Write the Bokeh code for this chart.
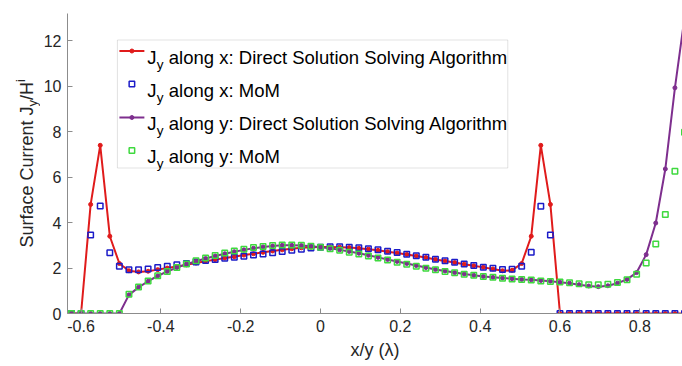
import math
from bokeh.plotting import figure
from bokeh.layouts import row
from bokeh.models import Range1d, FixedTicker, CustomJSTickFormatter, Label, BoxAnnotation
from bokeh.embed import file_html
from bokeh.resources import INLINE

# ---------------- data ----------------
x_pos = [-0.624, -0.600, -0.576, -0.552, -0.528, -0.504, -0.480, -0.456, -0.432, -0.408,
         -0.384, -0.360, -0.336, -0.312, -0.288, -0.264, -0.240, -0.216, -0.192, -0.168,
         -0.144, -0.120, -0.096, -0.072, -0.048, -0.024, 0.000, 0.024, 0.048, 0.072,
         0.096, 0.120, 0.144, 0.168, 0.192, 0.216, 0.240, 0.264, 0.288, 0.312,
         0.336, 0.360, 0.384, 0.408, 0.432, 0.456, 0.480, 0.504, 0.528, 0.552,
         0.576, 0.600, 0.624, 0.648, 0.672, 0.696, 0.720, 0.744, 0.768, 0.792,
         0.816, 0.840, 0.864, 0.888, 0.912]

jx_direct = [0, 0, 4.8, 7.4, 3.4, 2.2, 1.88, 1.83, 1.86, 1.93,
             2.00, 2.07, 2.14, 2.22, 2.30, 2.37, 2.44, 2.50, 2.57, 2.63,
             2.69, 2.75, 2.80, 2.85, 2.89, 2.92, 2.93, 2.93, 2.92, 2.90,
             2.87, 2.83, 2.78, 2.72, 2.66, 2.60, 2.53, 2.46, 2.38, 2.31,
             2.24, 2.17, 2.10, 2.03, 1.96, 1.88, 1.90, 2.20, 3.40, 7.40,
             4.80, 0, 0, 0, 0, 0, 0, 0, 0, 0,
             0, 0, 0, 0, 0]

jx_mom = [0, 0, 3.45, 4.73, 2.67, 2.08, 1.93, 1.92, 1.96, 2.02,
          2.08, 2.14, 2.20, 2.27, 2.33, 2.38, 2.43, 2.47, 2.52, 2.57,
          2.62, 2.67, 2.73, 2.78, 2.83, 2.88, 2.92, 2.94, 2.94, 2.92,
          2.89, 2.85, 2.80, 2.74, 2.68, 2.61, 2.54, 2.47, 2.39, 2.32,
          2.25, 2.18, 2.11, 2.04, 1.99, 1.94, 1.95, 2.08, 2.69, 4.72,
          3.45, 0, 0, 0, 0, 0, 0, 0, 0, 0,
          0, 0, 0, 0, 0]

jy_direct = [0, 0, 0, 0, 0, 0, 0.82, 1.15, 1.42, 1.65,
             1.85, 2.02, 2.17, 2.30, 2.42, 2.53, 2.63, 2.72, 2.80, 2.87,
             2.93, 2.97, 3.00, 3.00, 2.99, 2.96, 2.92, 2.87, 2.80, 2.73,
             2.65, 2.56, 2.47, 2.38, 2.29, 2.20, 2.11, 2.02, 1.94, 1.87,
             1.80, 1.74, 1.68, 1.63, 1.59, 1.56, 1.53, 1.50, 1.48, 1.45,
             1.42, 1.38, 1.33, 1.27, 1.21, 1.18, 1.22, 1.33, 1.50, 1.80,
             2.59, 3.98, 6.36, 9.93, 13.0]

jy_mom = [0, 0, 0, 0, 0, 0, 0.85, 1.17, 1.43, 1.66,
          1.85, 2.02, 2.18, 2.32, 2.44, 2.55, 2.66, 2.75, 2.83, 2.90,
          2.95, 2.99, 3.01, 3.01, 3.00, 2.96, 2.91, 2.85, 2.78, 2.70,
          2.62, 2.53, 2.44, 2.35, 2.26, 2.17, 2.08, 1.99, 1.92, 1.85,
          1.79, 1.73, 1.68, 1.63, 1.59, 1.55, 1.52, 1.50, 1.47, 1.43,
          1.41, 1.39, 1.35, 1.31, 1.27, 1.27, 1.29, 1.36, 1.49, 1.73,
          2.22, 3.06, 4.36, 6.26, 7.97]

x_ticks = [-0.6, -0.4, -0.2, 0, 0.2, 0.4, 0.6, 0.8]
y_ticks = [0, 2, 4, 6, 8, 10, 12]

legend_rest = ["along x: Direct Solution Solving Algorithm",
               "along x: MoM",
               "along y: Direct Solution Solving Algorithm",
               "along y: MoM"]

# ---------------- styling / layout ----------------
RED = "#e01b1b"
BLUE = "#1c1cc8"
PURPLE = "#7e2f8e"
GREEN = "#3fd93f"
AXIS = "#8c8c8c"
TXT = "#262626"
FONT = "Liberation Sans"

W, H = 682, 366
LW = 40                     # width of the strip holding the y-axis title
FL, FR, FT, FB = 66, 682, 13, 313   # frame edges in page pixels
X0, X1 = -0.634, 0.907
Y0, Y1 = 0.0, 13.2


def dx(px):
    return X0 + (px - FL) * (X1 - X0) / (FR - FL)


def dy(py):
    return Y0 + (FB - py) * (Y1 - Y0) / (FB - FT)


p = figure(width=W - LW, height=H, x_range=Range1d(X0, X1), y_range=Range1d(Y0, Y1),
           output_backend="svg", toolbar_location=None,
           min_border_left=FL - LW, min_border_right=W - FR,
           min_border_top=FT, min_border_bottom=H - FB)
p.outline_line_color = None
p.xgrid.visible = False
p.ygrid.visible = False
p.background_fill_color = "white"
p.border_fill_color = "white"

for ax in (p.xaxis[0], p.yaxis[0]):
    ax.axis_line_color = AXIS
    ax.major_tick_line_color = AXIS
    ax.major_tick_in = 5
    ax.major_tick_out = 0
    ax.minor_tick_line_color = None
    ax.major_label_text_font = FONT
    ax.major_label_text_font_size = "16px"
    ax.major_label_text_color = TXT
    ax.major_label_standoff = 6

p.xaxis.ticker = FixedTicker(ticks=x_ticks)
p.yaxis.ticker = FixedTicker(ticks=y_ticks)
p.xaxis.formatter = CustomJSTickFormatter(
    code="var s = tick.toFixed(1); if (s == '0.0' || s == '-0.0') { return '0'; } return s;")
p.yaxis.formatter = CustomJSTickFormatter(code="return tick.toFixed(0);")

p.xaxis.axis_label = "x/y (λ)"
p.xaxis.axis_label_text_font = FONT
p.xaxis.axis_label_text_font_size = "18px"
p.xaxis.axis_label_text_font_style = "normal"
p.xaxis.axis_label_text_color = TXT
p.xaxis.axis_label_standoff = 5

# ---------------- data marks ----------------
p.line(x_pos, jx_direct, line_color=RED, line_width=2)
p.scatter(x_pos, jx_direct, marker="circle", size=4, color=RED)
p.scatter(x_pos, jx_mom, marker="square", size=5.5, fill_color=None,
          line_color=BLUE, line_width=1.5)
p.line(x_pos, jy_direct, line_color=PURPLE, line_width=2)
p.scatter(x_pos, jy_direct, marker="circle", size=4, color=PURPLE)
p.scatter(x_pos, jy_mom, marker="square", size=5.5, fill_color=None,
          line_color=GREEN, line_width=1.5)

# ---------------- legend (drawn by hand for the J_y subscripts) ----------------
box = BoxAnnotation(left=dx(116), right=dx(507), top=dy(39.5), bottom=dy(167.5),
                    fill_color="white", fill_alpha=1.0, line_color="#a0a0a0",
                    line_width=1, level="underlay")
p.add_layout(box)

row_mid = [50.5, 83.5, 117, 150]
styles = [("line", RED), ("square", BLUE), ("line", PURPLE), ("square", GREEN)]
for (kind, col), ym, rest in zip(styles, row_mid, legend_rest):
    if kind == "line":
        p.line([dx(118), dx(143)], [dy(ym), dy(ym)], line_color=col, line_width=2)
        p.scatter([dx(130.5)], [dy(ym)], marker="circle", size=4, color=col)
    else:
        p.scatter([dx(130.5)], [dy(ym)], marker="square", size=5.5, fill_color=None,
                  line_color=col, line_width=1.5)
    base = ym + 6
    p.add_layout(Label(x=dx(146), y=dy(base), text="J", text_font=FONT,
                       text_font_size="18.5px", text_color="black",
                       text_baseline="alphabetic", text_align="left"))
    p.add_layout(Label(x=dx(155.5), y=dy(base + 7), text="y", text_font=FONT,
                       text_font_size="13.5px", text_color="black",
                       text_baseline="alphabetic", text_align="left"))
    p.add_layout(Label(x=dx(167.5), y=dy(base), text=rest, text_font=FONT,
                       text_font_size="18.5px", text_color="black",
                       text_baseline="alphabetic", text_align="left"))

# ---------------- y axis title strip (own small figure, sub/superscripts) ----------------
# In a row the frames are aligned with the main plot's frame (page y 13..313),
# so the strip's y range maps data value (H - page_y) onto that frame.
t = figure(width=LW, height=H, x_range=Range1d(0, LW), y_range=Range1d(H - FB, H - FT),
           output_backend="svg", toolbar_location=None,
           x_axis_location=None, y_axis_location=None,
           min_border_left=0, min_border_right=0, min_border_top=FT,
           min_border_bottom=H - FB)
t.outline_line_color = None
t.xgrid.visible = False
t.ygrid.visible = False
t.background_fill_color = "white"
t.border_fill_color = "white"

ang = math.pi / 2
base_x = 26.5
start_y = 247


def ylab(px, py, txt, size):
    t.add_layout(Label(x=px, y=H - py, text=txt, angle=ang, text_font=FONT,
                       text_font_size=size, text_color=TXT,
                       text_baseline="alphabetic", text_align="left"))


ylab(base_x, start_y, "Surface Current J", "18px")
ylab(base_x + 5, start_y - 141, "y", "13px")
ylab(base_x, start_y - 147.5, "/H", "18px")
ylab(base_x - 7, start_y - 165.5, "i", "13px")

layout = row(t, p, spacing=0)
open("out.html", "w").write(file_html(layout, INLINE))
